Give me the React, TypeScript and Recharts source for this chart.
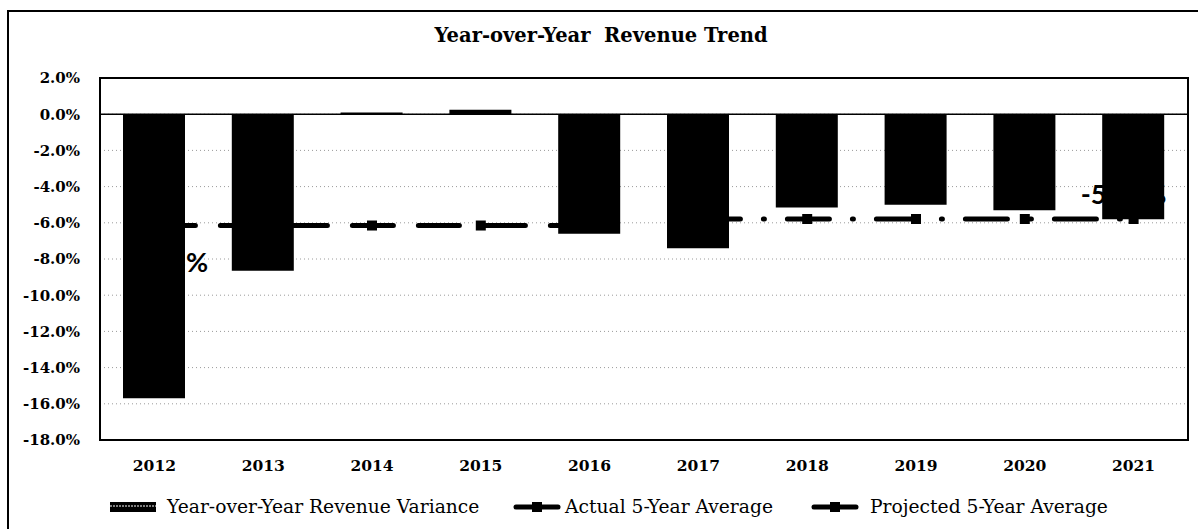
import React from 'react';
import {
  ComposedChart,
  Bar,
  Line,
  XAxis,
  YAxis,
  CartesianGrid,
  ReferenceLine,
  ReferenceArea,
  Legend,
  LabelList,
} from 'recharts';

const years = ['2012', '2013', '2014', '2015', '2016', '2017', '2018', '2019', '2020', '2021'];
const variance = [-15.7, -8.65, 0.1, 0.25, -6.6, -7.4, -5.15, -5.0, -5.3, -5.8];
const actualAvg = [-6.15, -6.15, -6.15, -6.15, -6.15, null, null, null, null, null];
const projectedAvg = [null, null, null, null, null, -5.79, -5.79, -5.79, -5.79, -5.79];
const yTicks = [2, 0, -2, -4, -6, -8, -10, -12, -14, -16, -18];
const avgLabels = ['-6.15%', '-5.79%'];
const legendNames = ['Year-over-Year Revenue Variance', 'Actual 5-Year Average', 'Projected 5-Year Average'];
const title = 'Year-over-Year\u00a0 Revenue Trend';

const data = years.map((y, i) => ({
  year: y,
  variance: variance[i],
  actual: actualAvg[i],
  projected: projectedAvg[i],
}));

const SERIF = '"DejaVu Serif", serif';
const SANS = 'Lato, "Open Sans", sans-serif';

const SquareDot = (props: any) => {
  const { cx, cy, index } = props;
  if (cx == null || cy == null || isNaN(cx) || isNaN(cy)) return <g key={`e${index}`} />;
  return <rect key={`d${index}`} x={cx - 5} y={cy - 5} width={10} height={10} fill="#000" />;
};

const makeLabel = (which: number) => (props: any) => {
  const { x, y, index } = props;
  if (which === 0 && index !== 0) return null;
  if (which === 1 && index !== years.length - 1) return null;
  if (x == null || y == null) return null;
  const dx = which === 0 ? 11 : -10;
  const dy = which === 0 ? 36 : -25;
  return (
    <text
      key={`l${which}${index}`}
      x={x + dx}
      y={y + dy}
      textAnchor="middle"
      dominantBaseline="central"
      fontFamily={SANS}
      fontWeight={700}
      fontSize={27}
      fill="#000"
    >
      {avgLabels[which]}
    </text>
  );
};

const LegendContent = () => {
  const textStyle: React.CSSProperties = {
    position: 'absolute',
    top: 13,
    fontFamily: SERIF,
    fontSize: 18.7,
    lineHeight: '26px',
    color: '#000',
    whiteSpace: 'nowrap',
  };
  return (
    <div style={{ position: 'relative', width: 1188, height: 40 }}>
      <svg style={{ position: 'absolute', left: 110, top: 21 }} width={46} height={10}>
        <rect x={0} y={0} width={46} height={10} fill="#000" />
        <line x1={0} y1={4} x2={46} y2={4} stroke="#fff" strokeWidth={1} strokeDasharray="2 1" />
      </svg>
      <div style={{ ...textStyle, left: 167 }}>{legendNames[0]}</div>
      <svg style={{ position: 'absolute', left: 513, top: 20 }} width={48} height={12}>
        <line x1={3} y1={6} x2={45} y2={6} stroke="#000" strokeWidth={5} strokeLinecap="round" />
        <rect x={19} y={1} width={10} height={10} fill="#000" />
      </svg>
      <div style={{ ...textStyle, left: 565 }}>{legendNames[1]}</div>
      <svg style={{ position: 'absolute', left: 811, top: 20 }} width={48} height={12}>
        <line x1={3} y1={6} x2={45} y2={6} stroke="#000" strokeWidth={5} strokeLinecap="round" />
        <rect x={19} y={1} width={10} height={10} fill="#000" />
      </svg>
      <div style={{ ...textStyle, left: 870 }}>{legendNames[2]}</div>
    </div>
  );
};

export default function App() {
  return (
    <div
      style={{
        position: 'fixed',
        left: 0,
        top: 0,
        width: 1198,
        height: 529,
        overflow: 'hidden',
        background: '#fff',
      }}
    >
      <div
        style={{
          position: 'absolute',
          left: 7,
          top: 10,
          width: 1300,
          height: 700,
          border: '2px solid #000',
          boxSizing: 'border-box',
        }}
      />
      <div
        style={{
          position: 'absolute',
          left: 0,
          top: 23,
          width: 1202,
          textAlign: 'center',
          fontFamily: SERIF,
          fontWeight: 700,
          fontSize: 19.5,
          lineHeight: '26px',
          color: '#000',
        }}
      >
        {title}
      </div>
      <div style={{ position: 'absolute', left: 0, top: 0 }}>
        <ComposedChart
          width={1198}
          height={529}
          data={data}
          margin={{ top: 78, right: 10, bottom: 8, left: 0 }}
        >
          <CartesianGrid vertical={false} stroke="#9a9a9a" strokeDasharray="1 3" />
          <XAxis
            dataKey="year"
            height={41}
            tickLine={false}
            tickSize={0}
            tickMargin={20}
            axisLine={{ stroke: '#000', strokeWidth: 2 }}
            tick={{ fill: '#000', fontFamily: SERIF, fontWeight: 700, fontSize: 15.5 }}
            interval={0}
          />
          <YAxis
            width={100}
            domain={[-18, 2]}
            ticks={yTicks}
            interval={0}
            tickLine={false}
            tickSize={0}
            tickMargin={20}
            axisLine={{ stroke: '#000', strokeWidth: 2 }}
            tickFormatter={(v: number) => `${v.toFixed(1)}%`}
            tick={{ fill: '#000', fontFamily: SERIF, fontWeight: 700, fontSize: 15 }}
          />
          <Legend verticalAlign="bottom" align="left" content={<LegendContent />} />
          <ReferenceLine y={0} stroke="#000" strokeWidth={1.5} />
          <Bar dataKey="variance" name={legendNames[0]} fill="#000" barSize={62} isAnimationActive={false} />
          <Line
            dataKey="actual"
            name={legendNames[1]}
            stroke="#000"
            strokeWidth={5}
            strokeDasharray="41 25"
            strokeLinecap="round"
            dot={SquareDot}
            activeDot={false}
            isAnimationActive={false}
            connectNulls={false}
          >
            <LabelList dataKey="actual" content={makeLabel(0)} />
          </Line>
          <Line
            dataKey="projected"
            name={legendNames[2]}
            stroke="#000"
            strokeWidth={5}
            strokeDasharray="42 23 1 23"
            strokeLinecap="round"
            dot={SquareDot}
            activeDot={false}
            isAnimationActive={false}
            connectNulls={false}
          >
            <LabelList dataKey="projected" content={makeLabel(1)} />
          </Line>
          <ReferenceArea y1={-18} y2={2} fill="none" stroke="#000" strokeWidth={2} ifOverflow="visible" />
        </ComposedChart>
      </div>
    </div>
  );
}
